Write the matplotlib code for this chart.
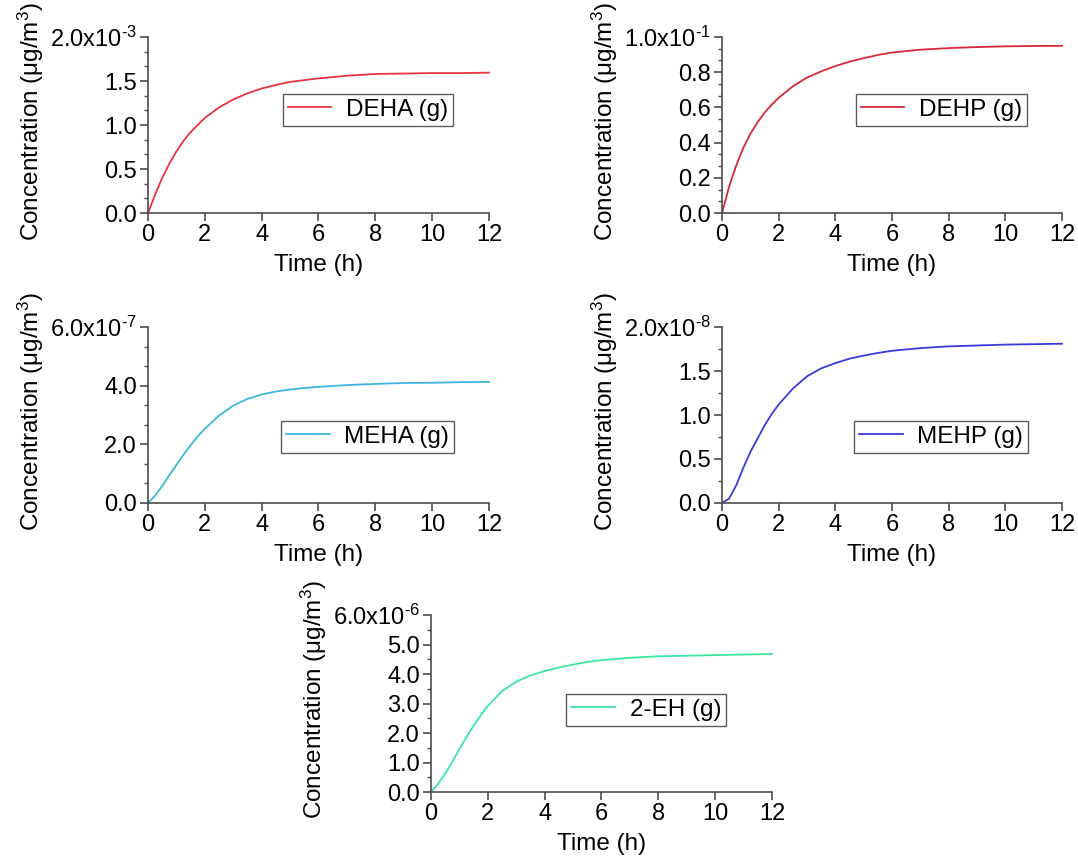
import matplotlib
matplotlib.use("Agg")
import matplotlib.pyplot as plt
from matplotlib.ticker import MultipleLocator, AutoMinorLocator, FuncFormatter
import numpy as np

plt.rcParams['font.family'] = ['Liberation Sans', 'DejaVu Sans']
plt.rcParams['mathtext.fontset'] = 'custom'
plt.rcParams['mathtext.rm'] = 'Liberation Sans'
plt.rcParams['mathtext.it'] = 'Liberation Sans:italic'

# time (h)
time_h = [0, 0.25, 0.5, 0.75, 1, 1.25, 1.5, 1.75, 2, 2.5, 3, 3.5, 4, 4.5, 5, 5.5, 6,
          7, 8, 9, 10, 11, 12]

# concentrations (ug/m3), in units of each panel's scale
deha = [0, 0.21, 0.40, 0.56, 0.70, 0.82, 0.92, 1.00, 1.08, 1.20, 1.29, 1.36, 1.415,
        1.455, 1.49, 1.51, 1.53, 1.56, 1.58, 1.585, 1.59, 1.59, 1.595]
dehp = [0, 0.15, 0.27, 0.37, 0.45, 0.515, 0.57, 0.615, 0.655, 0.72, 0.77, 0.805, 0.835,
        0.86, 0.88, 0.898, 0.912, 0.928, 0.937, 0.943, 0.947, 0.949, 0.95]
meha = [0, 0.25, 0.58, 0.95, 1.3, 1.65, 1.97, 2.27, 2.53, 2.98, 3.32, 3.55, 3.7,
        3.8, 3.87, 3.92, 3.96, 4.02, 4.06, 4.09, 4.1, 4.12, 4.13]
mehp = [0, 0.05, 0.2, 0.4, 0.58, 0.73, 0.88, 1.01, 1.12, 1.30, 1.44, 1.53, 1.59,
        1.64, 1.675, 1.705, 1.73, 1.76, 1.78, 1.79, 1.80, 1.805, 1.81]
eh2 = [0, 0.28, 0.62, 1.03, 1.45, 1.87, 2.25, 2.6, 2.92, 3.42, 3.74, 3.95, 4.1,
       4.22, 4.32, 4.41, 4.47, 4.55, 4.6, 4.62, 4.64, 4.66, 4.68]

labels = ['DEHA (g)', 'DEHP (g)', 'MEHA (g)', 'MEHP (g)', '2-EH (g)']
colors = ['#e8343f', '#d42a3a', '#3cb6e0', '#3a3ad8', '#3de6a0']
exps = [-3, -1, -7, -8, -6]
ymax = [2.0, 1.0, 6.0, 2.0, 6.0]
ystep = [0.5, 0.2, 2.0, 0.5, 1.0]
nminor = [3, 3, 3, 2, 2]
series = [deha, dehp, meha, mehp, eh2]

# axes rectangles (fig fraction) and legend anchor (axes fraction)
rects = [[0.1373, 0.7526, 0.3163, 0.2044],
         [0.6698, 0.7526, 0.3154, 0.2044],
         [0.1373, 0.4158, 0.3163, 0.2044],
         [0.6698, 0.4158, 0.3154, 0.2044],
         [0.3998, 0.0801, 0.3163, 0.2056]]
leg_anchor = [(0.894, 0.676), (0.897, 0.676), (0.897, 0.466), (0.90, 0.466), (0.865, 0.554)]

fig = plt.figure(figsize=(10.78, 8.61), dpi=100)
spine_col = '#4d4d4d'

for i in range(5):
    ax = fig.add_axes(rects[i])
    scale = 10.0 ** exps[i]
    y = np.array(series[i]) * scale
    ax.plot(time_h, y, color=colors[i], lw=1.3, label=labels[i], clip_on=False)

    ax.set_xlim(0, 12)
    ax.set_ylim(0, ymax[i] * scale)
    ax.xaxis.set_major_locator(MultipleLocator(2))
    ax.yaxis.set_major_locator(MultipleLocator(ystep[i] * scale))
    ax.yaxis.set_minor_locator(AutoMinorLocator(nminor[i]))

    def fmt(v, pos, scale=scale, e=exps[i], top=ymax[i]):
        x = v / scale
        if abs(x - top) < 1e-6:
            return '%.1fx10$^{\u2010%d}$' % (x, -e)
        return '%.1f' % x
    ax.yaxis.set_major_formatter(FuncFormatter(fmt))

    for s in ['top', 'right']:
        ax.spines[s].set_visible(False)
    for s in ['left', 'bottom']:
        ax.spines[s].set_color(spine_col)
        ax.spines[s].set_linewidth(1.2)

    ax.tick_params(axis='both', which='major', direction='out', length=6, width=1.2,
                   color=spine_col, labelsize=17, pad=2)
    ax.tick_params(axis='y', which='minor', direction='out', length=3, width=1.0,
                   color=spine_col)

    ax.set_xlabel('Time (h)', fontsize=17.5, labelpad=6)
    ax.set_ylabel('Concentration (\u03bcg/m$^{3}$)', fontsize=17.5)
    ax.yaxis.set_label_coords(-0.30, 0.52)

    leg = ax.legend(loc='upper right', bbox_to_anchor=leg_anchor[i], fontsize=17.5,
                    frameon=True, fancybox=False, handlelength=1.8,
                    borderpad=0.2, handletextpad=0.6, borderaxespad=0)
    leg.get_frame().set_edgecolor('#333333')
    leg.get_frame().set_linewidth(1.0)

fig.savefig('out.png', dpi=100)
